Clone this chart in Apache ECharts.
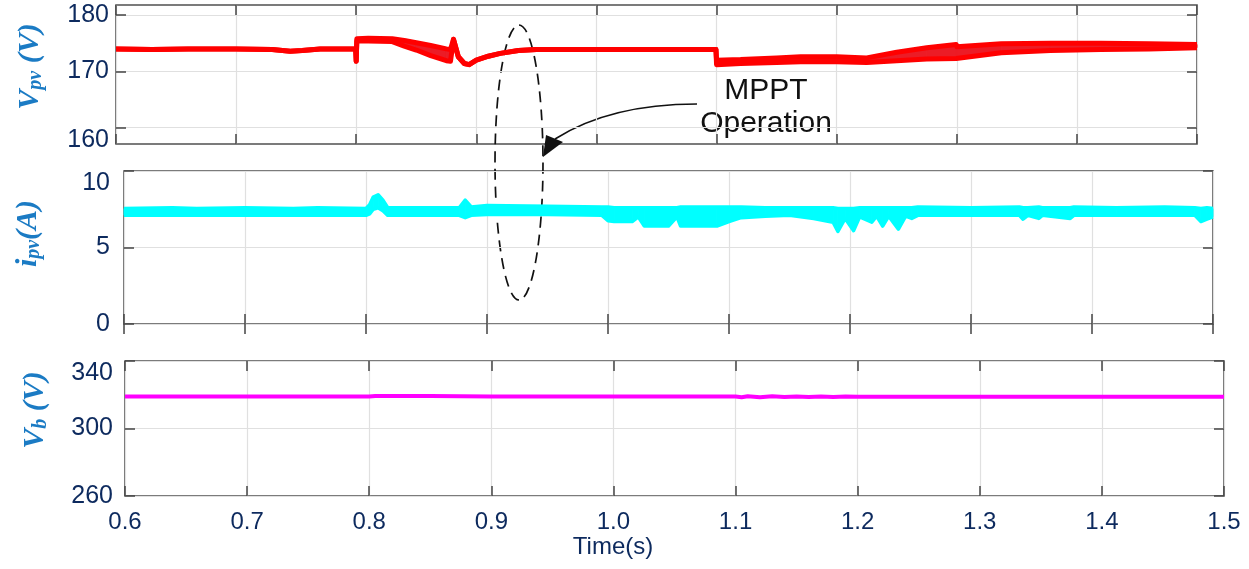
<!DOCTYPE html>
<html>
<head>
<meta charset="utf-8">
<title>MPPT operation</title>
<script src="https://cdn.jsdelivr.net/npm/echarts@6/dist/echarts.min.js"></script>
<style>
  html, body { margin: 0; padding: 0; background: #fff; }
  #chart { width: 1249px; height: 569px; }
</style>
</head>
<body>
<div id="chart"></div>
<script>
// tick labels
const xTicks = [0.6, 0.7, 0.8, 0.9, 1.0, 1.1, 1.2, 1.3, 1.4, 1.5]
const vpvTicks = [160, 170, 180]
const ipvTicks = [0, 5, 10]
const vbTicks = [260, 300, 340]

// PV voltage (lower / upper edge of the trace)
const vpvTime = [0.6, 0.63, 0.66, 0.7, 0.73, 0.745, 0.755, 0.77, 0.7995, 0.8, 0.8005, 0.81, 0.83, 0.84, 0.85, 0.862, 0.875, 0.8785, 0.881, 0.885, 0.89, 0.894, 0.9, 0.91, 0.92, 0.935, 0.95, 1.0, 1.05, 1.0995, 1.1, 1.12, 1.15, 1.17, 1.2, 1.225, 1.25, 1.275, 1.2995, 1.3, 1.337, 1.378, 1.42, 1.46, 1.5]
const vpvLow = [174.0, 173.9, 174.0, 174.0, 173.9, 173.6, 173.7, 174.0, 174.0, 171.8, 175.4, 175.4, 175.3, 174.5, 173.8, 172.8, 171.9, 171.8, 175.7, 172.6, 171.4, 171.2, 172.0, 172.7, 173.2, 173.7, 173.9, 173.9, 173.9, 173.9, 171.2, 171.4, 171.6, 171.7, 171.7, 171.6, 171.9, 172.2, 172.3, 172.6, 173.3, 173.7, 173.9, 174.0, 174.2]
const vpvHigh = [174.0, 173.9, 174.0, 174.0, 173.9, 173.6, 173.7, 174.0, 174.0, 171.8, 175.8, 175.9, 175.8, 175.5, 175.1, 174.6, 174.0, 173.9, 175.7, 172.6, 171.4, 171.2, 172.0, 172.7, 173.2, 173.7, 173.9, 173.9, 173.9, 173.9, 172.0, 172.1, 172.4, 172.6, 172.6, 172.4, 173.4, 174.2, 174.8, 174.4, 174.9, 175.0, 175.0, 174.9, 174.8]

// PV current
const ipvTime = [0.6, 0.64, 0.66, 0.7, 0.74, 0.76, 0.8, 0.803, 0.806, 0.81, 0.814, 0.818, 0.85, 0.877, 0.882, 0.887, 0.9, 0.95, 0.995, 1.0, 1.005, 1.02, 1.025, 1.03, 1.05, 1.057, 1.06, 1.09, 1.1, 1.11, 1.13, 1.15, 1.17, 1.186, 1.19, 1.196, 1.203, 1.208, 1.218, 1.222, 1.227, 1.232, 1.24, 1.246, 1.251, 1.256, 1.3, 1.34, 1.343, 1.347, 1.356, 1.359, 1.382, 1.385, 1.42, 1.46, 1.485, 1.49, 1.495, 1.5]
const ipvLow = [7.1, 7.1, 7.1, 7.1, 7.1, 7.1, 7.1, 7.2, 7.5, 7.6, 7.4, 7.1, 7.1, 7.1, 6.95, 7.1, 7.15, 7.15, 7.1, 6.75, 6.7, 6.7, 7.0, 6.4, 6.4, 7.0, 6.4, 6.4, 6.7, 6.95, 7.05, 7.1, 6.9, 6.65, 6.05, 6.9, 6.1, 7.0, 6.65, 7.05, 6.4, 7.05, 6.2, 7.05, 6.9, 7.1, 7.1, 7.1, 6.85, 7.1, 6.9, 7.1, 6.9, 7.1, 7.1, 7.1, 7.1, 6.7, 6.85, 7.0]
const ipvHigh = [7.55, 7.6, 7.55, 7.6, 7.55, 7.6, 7.55, 7.8, 8.3, 8.45, 8.1, 7.6, 7.6, 7.6, 8.1, 7.65, 7.75, 7.7, 7.65, 7.65, 7.6, 7.6, 7.6, 7.6, 7.6, 7.6, 7.65, 7.65, 7.65, 7.65, 7.6, 7.6, 7.6, 7.6, 7.55, 7.55, 7.55, 7.6, 7.6, 7.6, 7.6, 7.6, 7.6, 7.6, 7.6, 7.65, 7.6, 7.65, 7.6, 7.6, 7.65, 7.6, 7.6, 7.65, 7.6, 7.65, 7.6, 7.55, 7.6, 7.55]

// battery voltage
const vbTime = [0.6, 0.7, 0.8, 0.805, 0.85, 0.9, 1.0, 1.1, 1.105, 1.11, 1.12, 1.13, 1.14, 1.15, 1.16, 1.17, 1.18, 1.19, 1.2, 1.3, 1.4, 1.5]
const vbValue = [318.9, 318.9, 318.9, 319.3, 319.2, 319.0, 319.0, 319.0, 318.5, 319.1, 318.5, 319.1, 318.6, 319.0, 318.6, 318.9, 318.7, 318.9, 318.8, 318.8, 318.8, 318.8]

const LABEL_COLOR = '#0d2a5e'
const NAME_COLOR = '#1b7bc4'
const FRAME = '#505050'
const SANS = 'Liberation Sans, Arial, sans-serif'
const SERIF = 'Liberation Serif, Times New Roman, serif'

const grids = [
  { left: 116, top: 5, width: 1081, height: 139 },
  { left: 124, top: 171, width: 1089, height: 153 },
  { left: 125, top: 361, width: 1099, height: 135 }
].map(g => Object.assign(g, { show: true, borderColor: FRAME, borderWidth: 1.6, outerBoundsMode: 'none', containLabel: false }))

const tickStyle = { show: true, inside: true, length: 10, lineStyle: { color: '#444', width: 1.5 } }
const gridLine = { show: true, lineStyle: { color: '#e0e0e0', width: 1.2 } }

function xAxisPair (gridIndex, withLabels) {
  let bottom = {
    type: 'value', gridIndex, min: 0.6, max: 1.5, position: 'bottom',
    axisLine: { show: false },
    axisTick: Object.assign({ customValues: xTicks }, tickStyle),
    splitLine: gridLine,
    axisLabel: {
      show: withLabels, customValues: xTicks, margin: 14,
      formatter: v => v.toFixed(1),
      color: LABEL_COLOR, fontSize: 24, fontFamily: SANS
    }
  }
  if (withLabels) {
    Object.assign(bottom, {
      name: 'Time(s)', nameLocation: 'middle', nameGap: 39, nameMoveOverlap: false,
      nameTextStyle: { color: LABEL_COLOR, fontSize: 24, fontFamily: SANS, padding: [0, 123, 0, 0] }
    })
  }
  let top = {
    type: 'value', gridIndex, min: 0.6, max: 1.5, position: 'top',
    axisLine: { show: false },
    axisTick: Object.assign({ customValues: xTicks }, tickStyle),
    splitLine: { show: false },
    axisLabel: { show: false }
  }
  return [bottom, top]
}

function yAxisPair (gridIndex, min, max, ticks, margin, name, gap, shift, minAlign, maxAlign) {
  let left = {
    type: 'value', gridIndex, min, max, position: 'left',
    axisLine: { show: false },
    axisTick: Object.assign({ customValues: ticks }, tickStyle),
    splitLine: gridLine,
    axisLabel: {
      customValues: ticks, margin, color: LABEL_COLOR, fontSize: 25, fontFamily: SANS,
      verticalAlignMinLabel: minAlign, verticalAlignMaxLabel: maxAlign
    },
    name,
    nameLocation: 'middle',
    nameRotate: 90,
    nameGap: gap,
    nameMoveOverlap: false,
    nameTextStyle: {
      padding: [0, 0, 0, shift],
      rich: {
        v: { fontFamily: SERIF, fontStyle: 'italic', fontWeight: 'bold', fontSize: 30, lineHeight: 32, color: NAME_COLOR },
        s: { fontFamily: SERIF, fontStyle: 'italic', fontWeight: 'bold', fontSize: 20, lineHeight: 20, verticalAlign: 'bottom', color: NAME_COLOR }
      }
    }
  }
  let right = {
    type: 'value', gridIndex, min, max, position: 'right',
    axisLine: { show: false },
    axisTick: Object.assign({ customValues: ticks }, tickStyle),
    splitLine: { show: false },
    axisLabel: { show: false }
  }
  return [left, right]
}

// filled band between the lower and upper edge, one quad per segment
function bandFill (axisIndex, time, low, high, color) {
  let segs = []
  for (let i = 0; i < time.length - 1; i++) {
    segs.push([time[i], low[i], high[i], time[i + 1], low[i + 1], high[i + 1]])
  }
  return {
    type: 'custom', xAxisIndex: axisIndex, yAxisIndex: axisIndex, silent: true, animation: false,
    encode: { x: [0, 3], y: [1, 2, 4, 5] },
    data: segs,
    renderItem: (params, api) => {
      let p1 = api.coord([api.value(0), api.value(2)])
      let p2 = api.coord([api.value(3), api.value(5)])
      let p3 = api.coord([api.value(3), api.value(4)])
      let p4 = api.coord([api.value(0), api.value(1)])
      return { type: 'polygon', shape: { points: [p1, p2, p3, p4] }, style: { fill: color, stroke: color, lineWidth: 1 } }
    }
  }
}

function edgeLine (axisIndex, time, values, color, width) {
  return {
    type: 'line', xAxisIndex: axisIndex, yAxisIndex: axisIndex, silent: true, animation: false,
    symbol: 'none', data: time.map((t, i) => [t, values[i]]),
    lineStyle: { color, width, join: 'round' }
  }
}

const xAxes = [].concat(xAxisPair(0, false), xAxisPair(1, false), xAxisPair(2, true))
const yAxes = [].concat(
  yAxisPair(0, 157.1, 181.8, vpvTicks, 7, '{v|V}{s|pv}{v| (V)}', 70, 16, 'top', 'middle'),
  yAxisPair(1, 0, 10, ipvTicks, 14, '{v|i}{s|pv}{v|(A)}', 80, 28, 'middle', 'top'),
  yAxisPair(2, 260, 340, vbTicks, 12, '{v|V}{s|b}{v| (V)}', 74, 37, 'middle', 'top')
)

// ellipse made of four cubic quarters
const ex = 519, ey = 162.5, rx = 24, ry = 137.5, k = 0.5523
const dashed = { stroke: '#111', lineWidth: 1.7, lineDash: [11, 7], fill: null }
const ellipse = [
  [ex, ey - ry, ex + rx * k, ey - ry, ex + rx, ey - ry * k, ex + rx, ey],
  [ex + rx, ey, ex + rx, ey + ry * k, ex + rx * k, ey + ry, ex, ey + ry],
  [ex, ey + ry, ex - rx * k, ey + ry, ex - rx, ey + ry * k, ex - rx, ey],
  [ex - rx, ey, ex - rx, ey - ry * k, ex - rx * k, ey - ry, ex, ey - ry]
].map(q => ({
  type: 'bezierCurve', silent: true,
  shape: { x1: q[0], y1: q[1], cpx1: q[2], cpy1: q[3], cpx2: q[4], cpy2: q[5], x2: q[6], y2: q[7] },
  style: dashed
}))

const chart = echarts.init(document.getElementById('chart'), null, { renderer: 'canvas' })
chart.setOption({
  animation: false,
  backgroundColor: '#fff',
  grid: grids,
  xAxis: xAxes,
  yAxis: yAxes,
  series: [
    bandFill(0, vpvTime, vpvLow, vpvHigh, '#ec1c26'),
    edgeLine(0, vpvTime, vpvLow, '#ff0000', 5),
    edgeLine(0, vpvTime, vpvHigh, '#ff0000', 5),
    bandFill(2, ipvTime, ipvLow, ipvHigh, '#00ffff'),
    edgeLine(2, ipvTime, ipvLow, '#00ffff', 3.5),
    edgeLine(2, ipvTime, ipvHigh, '#00ffff', 3.5),
    edgeLine(4, vbTime, vbValue, '#ff00ff', 4)
  ],
  graphic: ellipse.concat([
    {
      type: 'bezierCurve', silent: true,
      shape: { x1: 697, y1: 104, cpx1: 610, cpy1: 104, x2: 555, y2: 139 },
      style: { stroke: '#111', lineWidth: 1.6, fill: null }
    },
    {
      type: 'polygon', silent: true,
      shape: { points: [[543, 157], [546, 135], [563, 142]] },
      style: { fill: '#111' }
    },
    {
      type: 'text', silent: true, x: 766, y: 91,
      style: { text: 'MPPT', fill: '#111', font: '30px ' + SANS, align: 'center', verticalAlign: 'middle' }
    },
    {
      type: 'text', silent: true, x: 766, y: 124,
      style: { text: 'Operation', fill: '#111', font: '30px ' + SANS, align: 'center', verticalAlign: 'middle' }
    }
  ])
})
window.addEventListener('resize', () => { chart.resize() })
</script>
</body>
</html>
